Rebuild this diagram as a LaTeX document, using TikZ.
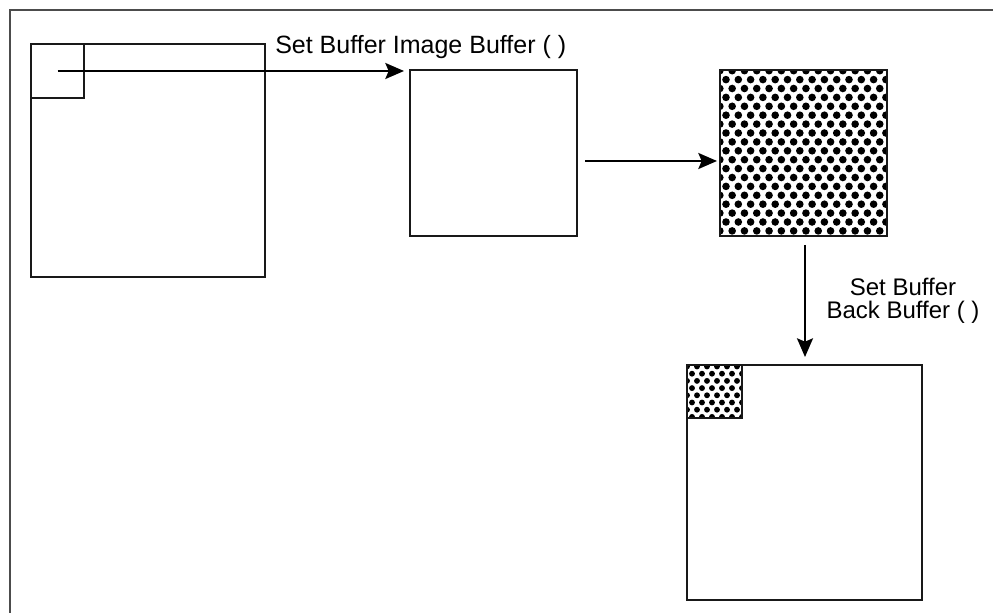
\documentclass[tikz,border=0pt]{standalone}
\usepackage{fontspec}
\setmainfont{Liberation Sans}
\usetikzlibrary{arrows.meta,calc}
\begin{document}
\begin{tikzpicture}[x=0.75pt,y=-0.75pt,
  box/.style={draw=black!90,line width=1.8pt,inner sep=0pt,outer sep=0pt,anchor=north west},
  arr/.style={line width=1.5pt,-{Stealth[length=14pt,width=12pt,inset=2.5pt]}},
  lbl/.style={inner sep=0pt},
  dotfill/.style={fill=black}]
\useasboundingbox (0,0) rectangle (993,613);
% outer frame (cropped)
\draw[black!70,line width=1.1pt] (10,613) -- (10,10) -- (993,10);
% boxes
\node[box,minimum width=175.5pt,minimum height=174.75pt] (big) at (31,44) {};
\node[box,minimum width=39.75pt,minimum height=40.5pt] (small) at (31,44) {};
\node[box,minimum width=125.25pt,minimum height=124.5pt] (mid) at (410,70) {};
\node[box,minimum width=125.25pt,minimum height=124.5pt] (dot) at (720,70) {};
\node[box,minimum width=176.25pt,minimum height=176.25pt] (bot) at (687,365) {};
\node[box,minimum width=41.25pt,minimum height=39.75pt] (sdot) at (687,365) {};
% dot pattern in the large dotted square
\begin{scope}
\clip (dot.north west) rectangle (dot.south east);
\foreach \j in {0,...,19}{
  \pgfmathsetmacro\off{6.15*mod(\j+1,2)}
  \foreach \i in {-1,...,14}{
    \fill[dotfill] ({726+12.3*\i+\off},{70.7+8.9*\j}) circle[radius=2.85pt];
  }
}
\end{scope}
% dot pattern in the small dotted square
\begin{scope}
\clip (sdot.north west) rectangle (sdot.south east);
\foreach \j in {0,...,8}{
  \pgfmathsetmacro\off{5*mod(\j+1,2)}
  \foreach \i in {-1,...,6}{
    \fill[dotfill] ({692+10*\i+\off},{366.5+7.2*\j}) circle[radius=2.2pt];
  }
}
\end{scope}
% redraw borders on top
\draw[line width=1.8pt,black!90] (dot.north west) rectangle (dot.south east);
\draw[line width=1.8pt,black!90] (sdot.north west) rectangle (sdot.south east);
% connectors
\coordinate (a1end) at ($(small.center -| mid.west)+(-6,0)$);
\draw[arr] (small.center) -- (a1end);
\coordinate (a2start) at ($(mid.east)+(8,8)$);
\coordinate (a2end) at ($(mid.east -| dot.west)+(-3,8)$);
\draw[arr] (a2start) -- (a2end);
\coordinate (a3start) at ($(dot.south)+(1.5,9)$);
\coordinate (a3end) at ($(dot.south |- bot.north)+(1.5,-8)$);
\draw[arr] (a3start) -- (a3end);
% labels
\node[lbl,anchor=base west,font=\fontsize{18.75}{22}\selectfont] (l1) at (275,54) {Set Buffer Image Buffer ( )};
\node[lbl,align=center,anchor=north,font=\fontsize{18}{17}\selectfont] (l2) at (903,278) {Set Buffer\\Back Buffer ( )};
\end{tikzpicture}
\end{document}
